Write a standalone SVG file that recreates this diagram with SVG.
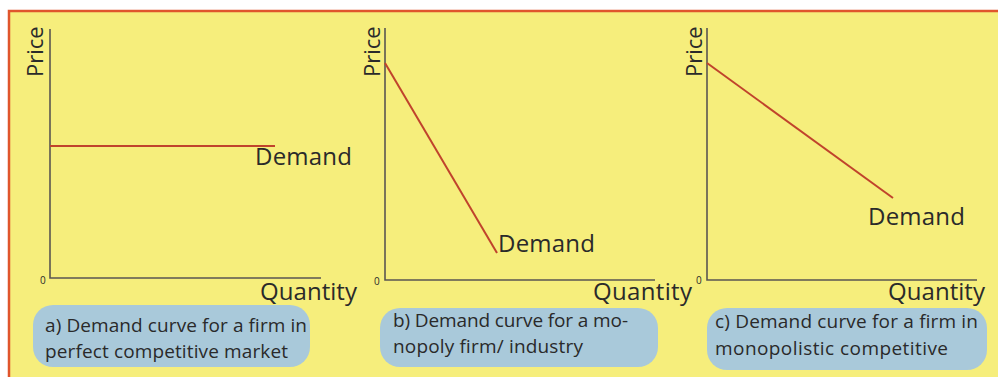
<svg xmlns="http://www.w3.org/2000/svg" width="998" height="377" viewBox="0 0 998 377">
<style>
.t{font-family:"Open Sans","Liberation Sans",sans-serif;fill:#2a2a2a}
.big{font-size:24px}
.price{font-size:22px}
.zero{font-size:10px}
.lbl{font-size:19px}
.axis{stroke:#5a5651;stroke-width:1.6;fill:none}
.dem{stroke:#c0432c;stroke-width:2;fill:none}
.box{fill:#a9c9da}
</style>
<rect x="0" y="0" width="998" height="377" fill="#ffffff"/>
<rect x="9" y="11" width="995" height="380" fill="#f6ee7c" stroke="#e0552c" stroke-width="2.5"/>
<g id="panel-a">
  <path class="axis" d="M50,29 V278 H321"/>
  <text class="t price" transform="translate(43,77) rotate(-90)">Price</text>
  <text class="t zero" x="40" y="284">0</text>
  <text class="t big" x="260" y="300" textLength="97">Quantity</text>
  <text class="t big" x="255" y="165" textLength="97">Demand</text>
</g>
<g id="panel-b">
  <path class="axis" d="M385,28 V280 H655"/>
  <text class="t price" transform="translate(380,77) rotate(-90)">Price</text>
  <text class="t zero" x="374" y="285">0</text>
  <text class="t big" x="593" y="300" textLength="99">Quantity</text>
  <text class="t big" x="498" y="252" textLength="97">Demand</text>
</g>
<g id="panel-c">
  <path class="axis" d="M707,28 V280 H977"/>
  <text class="t price" transform="translate(702,77) rotate(-90)">Price</text>
  <text class="t zero" x="696" y="284">0</text>
  <text class="t big" x="888" y="300" textLength="97">Quantity</text>
  <text class="t big" x="868" y="225" textLength="97">Demand</text>
</g>
<g id="connectors">
  <line class="dem" x1="50" y1="146" x2="275" y2="146"/>
  <line class="dem" x1="385" y1="63" x2="497" y2="253"/>
  <line class="dem" x1="707" y1="63" x2="893" y2="198"/>
</g>
<g id="label-a">
  <rect class="box" x="33" y="305" width="277" height="62" rx="20"/>
  <text class="t lbl" x="45" y="332" textLength="262">a) Demand curve for a firm in</text>
  <text class="t lbl" x="45" y="358" textLength="243">perfect competitive market</text>
</g>
<g id="label-b">
  <rect class="box" x="380" y="308" width="278" height="59" rx="20"/>
  <text class="t lbl" x="393" y="327" textLength="235">b) Demand curve for a mo-</text>
  <text class="t lbl" x="393" y="353" textLength="190">nopoly firm/ industry</text>
</g>
<g id="label-c">
  <rect class="box" x="707" y="308" width="280" height="62" rx="20"/>
  <text class="t lbl" x="715" y="328" textLength="263">c) Demand curve for a firm in</text>
  <text class="t lbl" x="715" y="355" textLength="233">monopolistic competitive</text>
</g>
</svg>
